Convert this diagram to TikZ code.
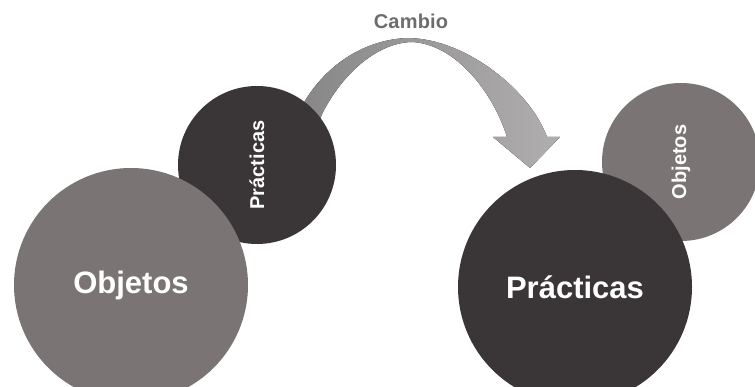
\documentclass[tikz,border=0pt]{standalone}
\usepackage{fontspec}
\setmainfont{Liberation Sans}
\definecolor{darkdisc}{HTML}{3A3637}
\definecolor{greydisc}{HTML}{7A7574}
\definecolor{arrowL}{HTML}{888788}
\definecolor{arrowR}{HTML}{B0AEAF}
\definecolor{labelgrey}{HTML}{6E6C6C}
\tikzset{
  disc/.style={circle,inner sep=0pt,text=white,font=\bfseries},
  bigdisc/.style={disc,minimum size=234pt,font=\fontsize{31}{35}\selectfont\bfseries},
  smalldisc/.style={disc,minimum size=158pt,font=\fontsize{20}{22}\selectfont\bfseries}
}
\begin{document}
\begin{tikzpicture}[x=1pt,y=-1pt]
\useasboundingbox (0,0) rectangle (755,387);
\clip (0,0) rectangle (755,387);
% curved arrow
\fill[left color=arrowL,right color=arrowR]
  (300,110) .. controls (320,70) and (360,40) .. (407,38)
  .. controls (465,38) and (530,90) .. (547,137)
  -- (560,137) -- (530,168) -- (493,137) -- (507,137)
  .. controls (492,90) and (455,45) .. (413,42)
  .. controls (380,42) and (345,70) .. (323,112) -- (315,130) -- cycle;
\node[font=\fontsize{20}{22}\selectfont\bfseries\addfontfeature{LetterSpace=1},text=labelgrey] (cambio) at (411,21) {Cambio};
% left pair
\node[smalldisc,fill=darkdisc] (practL) at (257,165) {\rotatebox{90}{Prácticas}};
\node[bigdisc,fill=greydisc] (objL) at (131,285) {Objetos};
% right pair
\node[smalldisc,fill=greydisc] (objR) at (681,162) {\rotatebox{90}{Objetos}};
\node[bigdisc,fill=darkdisc] (practR) at (575,287) {Prácticas};
\end{tikzpicture}
\end{document}
